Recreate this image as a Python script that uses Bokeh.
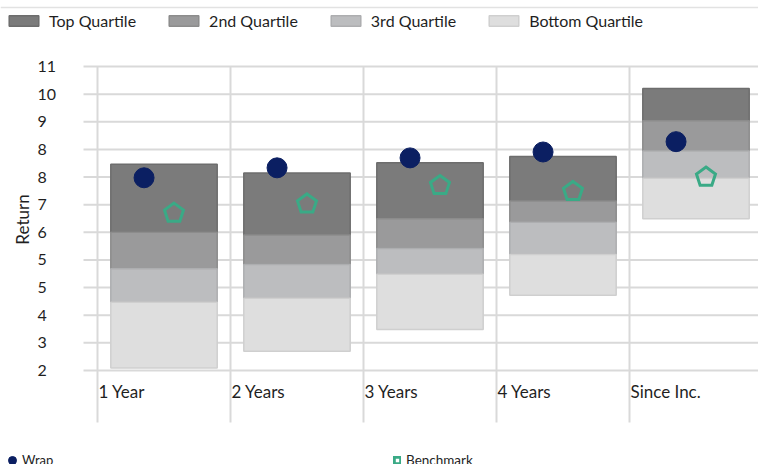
import math
from bokeh.plotting import figure
from bokeh.models import Range1d, Legend, LegendItem, Label, ColumnDataSource
from bokeh.core.properties import value
from bokeh.embed import file_html
from bokeh.resources import INLINE

# ---------------- data ----------------
categories = ["1 Year", "2 Years", "3 Years", "4 Years", "Since Inc."]
bottom_quartile_low = [2.32, 2.77, 3.36, 4.29, 6.37]
third_quartile_low = [4.10, 4.21, 4.86, 5.40, 7.47]
second_quartile_low = [5.01, 5.13, 5.56, 6.27, 8.21]
top_quartile_low = [6.00, 5.93, 6.37, 6.85, 9.03]
top_quartile_high = [7.85, 7.61, 7.89, 8.06, 9.90]
wrap = [7.48, 7.75, 8.02, 8.18, 8.46]
benchmark = [6.52, 6.77, 7.27, 7.11, 7.50]
y_ticks = [2.25, 3.0, 3.75, 4.5, 5.25, 6.0, 6.75, 7.5, 8.25, 9.0, 9.75, 10.5]
y_tick_labels = ["2", "3", "4", "5", "5", "6", "7", "8", "8", "9", "10", "11"]
quartile_names = ["Top Quartile", "2nd Quartile", "3rd Quartile", "Bottom Quartile"]

# ---------------- layout (pixels) ----------------
W, H = 758, 464
PLOT_L, PLOT_T, PLOT_B = 97, 66, 370      # plotting area inside the canvas
BAND_PX = 133                              # width of one category band
Y_LO, Y_HI = y_ticks[0], y_ticks[-1]
PX_Y = (Y_HI - Y_LO) / (PLOT_B - PLOT_T)   # data units per pixel (y)
PX_X = 1.0 / BAND_PX                       # data units per pixel (x)
X0 = -PLOT_L * PX_X
X1 = (W - PLOT_L) * PX_X
Y0 = Y_LO - (H - PLOT_B) * PX_Y
Y1 = Y_HI + PLOT_T * PX_Y

FONT = "Lato"
TXT = "#1f1f1f"
GRID = "#d9d9d9"

p = figure(width=W, height=H, output_backend="svg", toolbar_location=None,
           x_range=Range1d(X0, X1), y_range=Range1d(Y0, Y1),
           min_border=0, min_border_left=0, min_border_right=0,
           min_border_top=0, min_border_bottom=0)
p.outline_line_color = None
p.background_fill_color = "white"
p.axis.visible = False
p.grid.visible = False

idx = list(range(len(categories)))
centers = [i + 0.5 for i in idx]

# thin rule at the very top of the chart
p.segment(x0=[X0], x1=[X1], y0=[Y1 - 7 * PX_Y], y1=[Y1 - 7 * PX_Y],
          line_color="#e2e2e2", line_width=1.5)

# horizontal grid lines (with the outside tick stubs on the left)
p.segment(x0=[-14 * PX_X] * len(y_ticks), x1=[X1] * len(y_ticks), y0=y_ticks, y1=y_ticks,
          line_color=GRID, line_width=2)
# vertical band separators (extending down through the category labels)
p.segment(x0=idx, x1=idx, y0=[Y_HI] * len(idx), y1=[Y_LO - 52 * PX_Y] * len(idx),
          line_color=GRID, line_width=2)

# stacked quartile boxes
src = ColumnDataSource(dict(x=centers, b0=bottom_quartile_low, b1=third_quartile_low,
                            b2=second_quartile_low, b3=top_quartile_low, b4=top_quartile_high))
fills = ["#7b7b7b", "#9a9a9b", "#bcbdbf", "#dedede"]
lines = ["#6d6d6d", "#8c8c8c", "#adaeb0", "#cfcfcf"]
spans = [("b3", "b4"), ("b2", "b3"), ("b1", "b2"), ("b0", "b1")]
bar_r = []
for (lo, hi), fc, lc in zip(spans, fills, lines):
    r = p.vbar(x="x", width=0.8, bottom=lo, top=hi, source=src,
               fill_color=fc, line_color=lc, line_width=1.5)
    bar_r.append(r)

# wrap dots
wrap_x = [c - 0.15 for c in centers]
wrap_r = p.scatter(wrap_x, wrap, size=20, marker="circle",
                   fill_color="#0b1f62", line_color="#0b1f62")

# benchmark pentagons (outline), sized in pixels through the scales
R = 10
bench_x = [c + 0.075 for c in centers]
xs = [[bx + R * math.sin(2 * math.pi * k / 5) * PX_X for k in range(5)] for bx in bench_x]
ys = [[by + R * math.cos(2 * math.pi * k / 5) * PX_Y for k in range(5)] for by in benchmark]
bench_r = p.patches(xs, ys, fill_color=None, line_color="#3aaa86", line_width=3,
                    line_join="miter")

# y tick labels (left aligned)
p.text(x=[-60 * PX_X] * len(y_ticks), y=y_ticks, text=y_tick_labels,
       text_align="left", text_baseline="middle", text_font=value(FONT),
       text_font_size="16px", text_color=TXT)

# category labels, left aligned at the band start
p.text(x=[i + 1 * PX_X for i in idx], y=[Y_LO - 21 * PX_Y] * len(idx), text=categories,
       text_align="left", text_baseline="middle", text_font=value(FONT),
       text_font_size="17px", text_color=TXT)

# axis title
p.add_layout(Label(x=-75 * PX_X, y=Y_LO + (PLOT_B - 219) * PX_Y, text="Return",
                   angle=math.pi / 2, text_align="center", text_baseline="middle",
                   text_font=FONT, text_font_size="17px", text_color=TXT))

# top legend
top_leg = Legend(items=[LegendItem(label=n, renderers=[r]) for n, r in zip(quartile_names, bar_r)],
                 orientation="horizontal", location=(5, H - 30),
                 glyph_width=37, glyph_height=13, label_height=13, label_standoff=7,
                 spacing=29, padding=0, margin=0,
                 label_text_font=FONT, label_text_font_size="16px", label_text_color=TXT,
                 background_fill_alpha=0, border_line_alpha=0)
p.add_layout(top_leg)

# bottom legends
wrap_leg = Legend(items=[LegendItem(label="Wrap", renderers=[wrap_r])],
                  location=(2, -6), glyph_width=20, glyph_height=20, label_standoff=0,
                  padding=0, margin=0, label_text_font=FONT, label_text_font_size="13px",
                  label_text_color=TXT, background_fill_alpha=0, border_line_alpha=0)
bench_leg = Legend(items=[LegendItem(label="Benchmark", renderers=[bench_r])],
                   location=(393, -4), glyph_width=8, glyph_height=8, label_standoff=5,
                   padding=0, margin=0, label_text_font=FONT, label_text_font_size="13.5px",
                   label_text_color=TXT, background_fill_alpha=0, border_line_alpha=0)
p.add_layout(wrap_leg)
p.add_layout(bench_leg)

open("out.html", "w").write(file_html(p, INLINE))
